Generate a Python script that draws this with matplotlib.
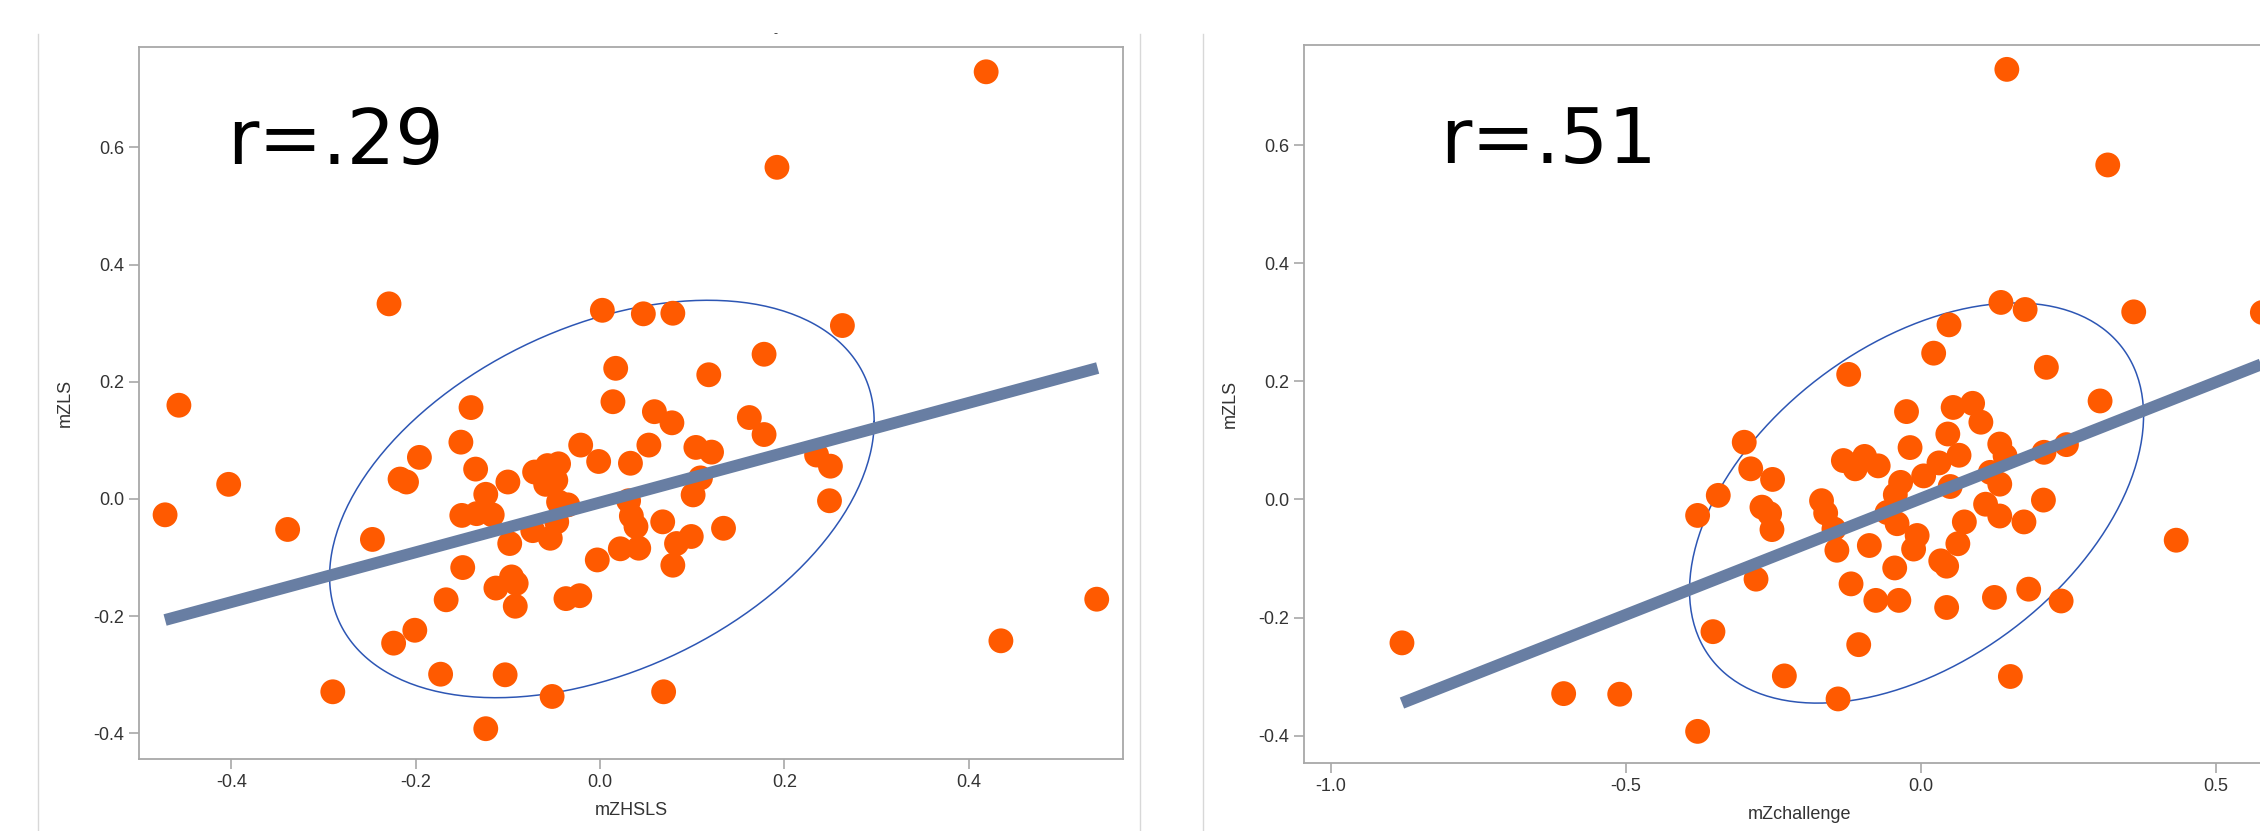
import numpy as np
import matplotlib
matplotlib.use("Agg")
import matplotlib.pyplot as plt
from matplotlib.lines import Line2D

plt.rcParams['axes.unicode_minus'] = False
plt.rcParams['font.family'] = ['Liberation Sans Narrow', 'Liberation Sans', 'DejaVu Sans']

# --- data: left panel (mZHSLS vs mZLS) ---
hsls_x = [0.419, 0.192, -0.229, -0.457, -0.403, -0.472, -0.339, -0.247, 0.263, 0.178,
          0.118, 0.017, 0.0025, 0.047, 0.079, 0.162, 0.178, 0.235, 0.250, 0.249,
          0.539, 0.435, -0.290, -0.124, -0.173, -0.103, -0.052, 0.069, -0.224, -0.201,
          -0.167, 0.134, 0.079, 0.099, 0.083, 0.068, 0.101, 0.104, 0.121, 0.109,
          0.053, 0.059, 0.078, 0.014, 0.033, -0.0015, -0.021, -0.003, 0.022, 0.042,
          0.031, 0.034, 0.039, -0.037, -0.022, -0.092, -0.091, -0.096, -0.113, -0.149,
          -0.098, -0.151, -0.140, -0.196, -0.217, -0.210, -0.135, -0.100, -0.124, -0.150,
          -0.134, -0.117, -0.071, -0.057, -0.045, -0.059, -0.048, -0.073, -0.054, -0.035,
          -0.047, -0.045]
hsls_y = [0.729, 0.566, 0.333, 0.160, 0.025, -0.027, -0.052, -0.069, 0.296, 0.247,
          0.212, 0.223, 0.322, 0.316, 0.317, 0.139, 0.110, 0.075, 0.056, -0.003,
          -0.171, -0.242, -0.329, -0.392, -0.299, -0.300, -0.337, -0.329, -0.246, -0.224,
          -0.172, -0.050, -0.113, -0.064, -0.076, -0.039, 0.007, 0.088, 0.080, 0.036,
          0.092, 0.149, 0.130, 0.166, 0.061, 0.064, 0.092, -0.104, -0.085, -0.084,
          -0.003, -0.029, -0.047, -0.170, -0.165, -0.183, -0.144, -0.133, -0.152, -0.117,
          -0.076, 0.097, 0.156, 0.071, 0.034, 0.029, 0.051, 0.029, 0.008, -0.028,
          -0.025, -0.027, 0.046, 0.057, 0.060, 0.025, 0.032, -0.054, -0.067, -0.010,
          -0.039, -0.005]
hsls_fit_x = [-0.472, 0.540]
hsls_fit_y = [-0.2065, 0.2235]
hsls_ell_center = [0.002, 0.0]
hsls_ell_cov = [[0.0873, 0.039], [0.039, 0.115]]

# --- data: right panel (mZchallenge vs mZLS) ---
chal_x = [0.146, 0.317, 0.361, 0.579, 0.433, 0.136, 0.177, 0.048, 0.022, 0.213,
          -0.122, 0.304, -0.299, -0.288, -0.251, -0.343, -0.378, -0.879, -0.605, -0.510,
          -0.378, -0.352, -0.231, -0.140, -0.105, -0.279, 0.152, 0.238, 0.183, 0.125,
          0.044, -0.037, -0.076, -0.118, -0.044, 0.044, 0.034, 0.063, 0.074, 0.175,
          0.208, 0.110, 0.134, 0.209, 0.247, -0.024, 0.055, 0.088, 0.102, 0.046,
          -0.018, -0.131, -0.095, -0.111, -0.072, 0.031, 0.065, 0.134, 0.143, 0.118,
          0.005, -0.034, -0.043, 0.050, 0.134, -0.168, -0.161, -0.269, -0.256, -0.252,
          -0.147, -0.142, -0.057, -0.040, -0.006, -0.012, -0.087]
chal_y = [0.729, 0.567, 0.318, 0.317, -0.069, 0.334, 0.322, 0.296, 0.248, 0.224,
          0.212, 0.167, 0.097, 0.052, 0.034, 0.007, -0.027, -0.243, -0.329, -0.330,
          -0.393, -0.224, -0.299, -0.338, -0.246, -0.135, -0.300, -0.172, -0.152, -0.166,
          -0.183, -0.171, -0.171, -0.143, -0.116, -0.113, -0.104, -0.075, -0.038, -0.038,
          -0.001, -0.008, -0.028, 0.080, 0.093, 0.149, 0.156, 0.163, 0.131, 0.111,
          0.088, 0.066, 0.073, 0.052, 0.057, 0.062, 0.075, 0.094, 0.074, 0.046,
          0.040, 0.029, 0.008, 0.022, 0.026, -0.002, -0.023, -0.013, -0.024, -0.051,
          -0.050, -0.086, -0.022, -0.041, -0.061, -0.084, -0.078]
chal_fit_x = [-0.879, 0.62]
chal_fit_y = [-0.345, 0.246]
chal_ell_center = [-0.007, -0.006]
chal_ell_cov = [[0.148, 0.057], [0.057, 0.115]]

dot_color = '#FF5A00'
fit_color = '#687EA3'
ell_color = '#2D56B4'
frame_color = '#A8A8A8'


def panel(ax, x, y, fit_x, fit_y, center, cov, xlim, ylim, xticks, xlabel, rtext, rx):
    # prediction ellipse
    t = np.linspace(0, 2 * np.pi, 300)
    L = np.linalg.cholesky(np.array(cov))
    pts = L @ np.vstack([np.cos(t), np.sin(t)])
    ax.plot(pts[0] + center[0], pts[1] + center[1], color=ell_color, lw=1.1, zorder=1)
    ax.scatter(x, y, s=320, color=dot_color, edgecolors='none', zorder=2)
    ax.plot(fit_x, fit_y, color=fit_color, lw=8.5, solid_capstyle='butt', zorder=3)
    ax.set_xlim(xlim)
    ax.set_ylim(ylim)
    ax.set_xticks(xticks)
    ax.set_yticks([-0.4, -0.2, 0.0, 0.2, 0.4, 0.6])
    ax.xaxis.set_major_formatter(matplotlib.ticker.FormatStrFormatter('%.1f'))
    ax.yaxis.set_major_formatter(matplotlib.ticker.FormatStrFormatter('%.1f'))
    ax.tick_params(colors=frame_color, labelcolor='#333333', labelsize=13, length=7, width=1.2)
    for s in ax.spines.values():
        s.set_color(frame_color)
        s.set_linewidth(1.3)
    ax.set_xlabel(xlabel, fontsize=13, color='#333333', labelpad=8)
    ax.set_ylabel('mZLS', fontsize=13, color='#333333', labelpad=14)
    ax.text(rx, 0.835, rtext, transform=ax.transAxes, fontsize=55,
            family='DejaVu Sans', color='black', va='baseline', ha='left')


fig = plt.figure(figsize=(22.6, 8.31), dpi=100)
ax1 = fig.add_axes([139 / 2260, 72 / 831, 984 / 2260, 712.4 / 831])
ax2 = fig.add_axes([1304 / 2260, 68 / 831, 992 / 2260, 718 / 831])

panel(ax1, hsls_x, hsls_y, hsls_fit_x, hsls_fit_y, hsls_ell_center, hsls_ell_cov,
      (-0.5003, 0.5675), (-0.4437, 0.772), [-0.4, -0.2, 0.0, 0.2, 0.4], 'mZHSLS', 'r=.29', 0.09)
panel(ax2, chal_x, chal_y, chal_fit_x, chal_fit_y, chal_ell_center, chal_ell_cov,
      (-1.045, 0.636), (-0.4466, 0.7703), [-1.0, -0.5, 0.0, 0.5], 'mZchallenge', 'r=.51', 0.137)

# thin separators from the original layout
for xp in [38, 1140, 1203]:
    fig.add_artist(Line2D([xp / 2260] * 2, [0, 1 - 34 / 831], transform=fig.transFigure,
                          color='#D8D8D8', lw=1))

# leftover dash of a cropped title
fig.text(775 / 2260, 1 - 34 / 831, '-', fontsize=9, color='#333333', ha='center', va='center')

fig.savefig('out.png', dpi=100)
